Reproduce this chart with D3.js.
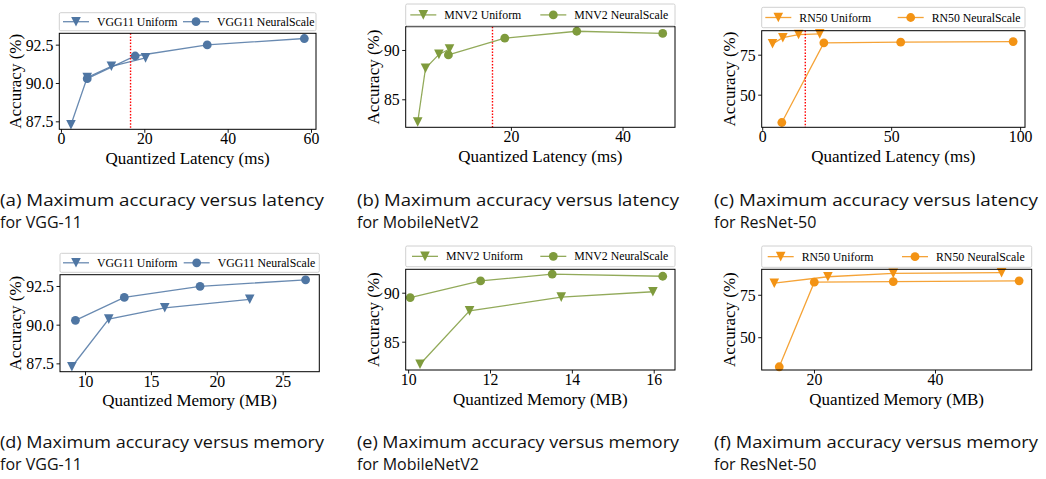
<!DOCTYPE html>
<html>
<head>
<meta charset="utf-8">
<script src="https://cdn.jsdelivr.net/npm/d3@7"></script>
<style>
  body { margin: 0; background: #fff; }
  svg { display: block; }
</style>
</head>
<body>
<svg id="fig" width="1046" height="479"></svg>
<script>
// ---- VGG-11 ----
const vggLatUniform = [2.4, 6.3, 12.1, 20.3];
const vggLatNeural  = [6.3, 17.8, 35.1, 58.4];
const vggMemUniform = [9.0, 11.8, 16.05, 22.5];
const vggMemNeural  = [9.27, 12.98, 18.73, 26.74];
const vggAccUniform = [87.28, 90.36, 91.09, 91.64];
const vggAccNeural  = [90.28, 91.76, 92.48, 92.9];

// ---- MobileNetV2 ----
const mnvLatUniform = [3.3, 4.7, 7.1, 9.0];
const mnvLatNeural  = [8.8, 18.9, 31.8, 47.2];
const mnvMemUniform = [10.29, 11.5, 13.74, 15.98];
const mnvMemNeural  = [10.05, 11.77, 13.52, 16.22];
const mnvAccUniform = [82.7, 88.15, 89.55, 90.1];
const mnvAccNeural  = [89.5, 91.2, 91.9, 91.68];

// ---- ResNet-50 ----
const rnLatUniform = [4.0, 8.0, 14.1, 22.3];
const rnLatNeural  = [7.6, 23.9, 53.7, 97.3];
const rnMemUniform = [13.44, 22.3, 33.1, 51.0];
const rnMemNeural  = [14.26, 20.05, 33.1, 53.9];
const rnAccUniform = [81.8, 85.6, 87.6, 88.0];
const rnAccNeural  = [32.6, 82.4, 82.8, 83.2];

// latency budget marker (ms)
const latencyBudget = 16.7;

// ---- tick values ----
const vggLatTicks = [0, 20, 40, 60];
const vggMemTicks = [10, 15, 20, 25];
const vggAccTicks = [87.5, 90.0, 92.5];
const mnvLatTicks = [20, 40];
const mnvMemTicks = [10, 12, 14, 16];
const mnvAccTicks = [85, 90];
const rnLatTicks  = [0, 50, 100];
const rnMemTicks  = [20, 40];
const rnAccTicks  = [50, 75];

// ---- captions ----
const captionsTop = [
  ["(a) Maximum accuracy versus latency", "for VGG-11"],
  ["(b) Maximum accuracy versus latency", "for MobileNetV2"],
  ["(c) Maximum accuracy versus latency", "for ResNet-50"]
];
const captionsBottom = [
  ["(d) Maximum accuracy versus memory", "for VGG-11"],
  ["(e) Maximum accuracy versus memory", "for MobileNetV2"],
  ["(f) Maximum accuracy versus memory", "for ResNet-50"]
];

const colors = { vgg: "#4f76a3", mnv: "#7f9b3d", rn: "#f39314" };

const panels = [
  { box: [59.3, 33.3, 316, 129.3], leg: [12.7, 30.7], legX: [16.7, 136.7],
    xDom: [-0.4, 61.2], yDom: [86.98, 93.24], xTicks: vggLatTicks, yTicks: vggAccTicks, yFmt: ".1f",
    xs: [vggLatUniform, vggLatNeural], ys: [vggAccUniform, vggAccNeural],
    names: ["VGG11 Uniform", "VGG11 NeuralScale"], color: colors.vgg,
    xLabel: "Quantized Latency (ms)", budget: latencyBudget },
  { box: [405.7, 26.7, 675, 127.3], leg: [4, 25.8], legX: [17.6, 147.6],
    xDom: [1.15, 49.4], yDom: [82.16, 92.36], xTicks: mnvLatTicks, yTicks: mnvAccTicks, yFmt: "d",
    xs: [mnvLatUniform, mnvLatNeural], ys: [mnvAccUniform, mnvAccNeural],
    names: ["MNV2 Uniform", "MNV2 NeuralScale"], color: colors.mnv,
    xLabel: "Quantized Latency (ms)", budget: latencyBudget },
  { box: [761.7, 30.7, 1025, 127.3], leg: [7.3, 27.7], legX: [16.6, 149],
    xDom: [-0.2, 101.9], yDom: [29.6, 90.0], xTicks: rnLatTicks, yTicks: rnAccTicks, yFmt: "d",
    xs: [rnLatUniform, rnLatNeural], ys: [rnAccUniform, rnAccNeural],
    names: ["RN50 Uniform", "RN50 NeuralScale"], color: colors.rn,
    xLabel: "Quantized Latency (ms)", budget: latencyBudget },
  { box: [60, 274.7, 319.3, 371.7], leg: [253.3, 272.3], legX: [16, 136.7],
    xDom: [8.1, 27.78], yDom: [86.96, 93.23], xTicks: vggMemTicks, yTicks: vggAccTicks, yFmt: ".1f",
    xs: [vggMemUniform, vggMemNeural], ys: [vggAccUniform, vggAccNeural],
    names: ["VGG11 Uniform", "VGG11 NeuralScale"], color: colors.vgg,
    xLabel: "Quantized Memory (MB)" },
  { box: [405.7, 269.3, 675, 370], leg: [246, 266.7], legX: [19.3, 147.6],
    xDom: [9.94, 16.52], yDom: [82.11, 92.39], xTicks: mnvMemTicks, yTicks: mnvAccTicks, yFmt: "d",
    xs: [mnvMemUniform, mnvMemNeural], ys: [mnvAccUniform, mnvAccNeural],
    names: ["MNV2 Uniform", "MNV2 NeuralScale"], color: colors.mnv,
    xLabel: "Quantized Memory (MB)" },
  { box: [761.7, 269.3, 1031.7, 370], leg: [246, 267.3], legX: [19, 153.3],
    xDom: [11.36, 55.98], yDom: [30.7, 90.0], xTicks: rnMemTicks, yTicks: rnAccTicks, yFmt: "d",
    xs: [rnMemUniform, rnMemNeural], ys: [rnAccUniform, rnAccNeural],
    names: ["RN50 Uniform", "RN50 NeuralScale"], color: colors.rn,
    xLabel: "Quantized Memory (MB)" }
];

const svg = d3.select("#fig");
const serif = "'Liberation Serif', 'Times New Roman', serif";

// marker shapes: downward triangle and circle
function drawMarker(g, kind, x, y, color) {
  if (kind === 0) {
    const s = 4.8;
    g.append("path")
      .attr("d", `M${x - s},${y - s}L${x + s},${y - s}L${x},${y + s}Z`)
      .attr("fill", color);
  } else {
    g.append("circle").attr("cx", x).attr("cy", y).attr("r", 4.4).attr("fill", color);
  }
}

panels.forEach(p => {
  const [L, T, R, B] = p.box;
  const x = d3.scaleLinear().domain(p.xDom).range([L, R]);
  const y = d3.scaleLinear().domain(p.yDom).range([B, T]);
  const g = svg.append("g");

  const clipId = "clip" + Math.round(L) + "_" + Math.round(T);
  svg.append("clipPath").attr("id", clipId)
    .append("rect").attr("x", L - 6).attr("y", T - 6).attr("width", R - L + 12).attr("height", B - T + 12);

  // series: line then markers
  const data = g.append("g").attr("clip-path", `url(#${clipId})`);
  [0, 1].forEach(k => {
    const pts = p.xs[k].map((v, i) => [v, p.ys[k][i]]);
    data.append("path")
      .datum(pts)
      .attr("d", d3.line().x(d => x(d[0])).y(d => y(d[1])))
      .attr("fill", "none")
      .attr("stroke", p.color)
      .attr("stroke-opacity", 0.85)
      .attr("stroke-width", 1.3);
    pts.forEach(d => drawMarker(data, k, x(d[0]), y(d[1]), p.color));
  });

  // latency budget
  if (p.budget !== undefined) {
    g.append("line")
      .attr("x1", x(p.budget)).attr("x2", x(p.budget))
      .attr("y1", T).attr("y2", B)
      .attr("stroke", "#ff0000")
      .attr("stroke-width", 1.4)
      .attr("stroke-dasharray", "1.5,1.6");
  }

  // axes
  const xAxis = d3.axisBottom(x).tickValues(p.xTicks).tickSize(3.5).tickPadding(2).tickFormat(d3.format("d"));
  const yAxis = d3.axisLeft(y).tickValues(p.yTicks).tickSize(3.5).tickPadding(2.5).tickFormat(d3.format(p.yFmt));
  const gx = g.append("g").attr("transform", `translate(0,${B})`).call(xAxis);
  const gy = g.append("g").attr("transform", `translate(${L},0)`).call(yAxis);
  [gx, gy].forEach(a => {
    a.select(".domain").remove();
    a.selectAll("line").attr("stroke", "#000").attr("stroke-width", 0.9);
    a.selectAll("text").attr("font-family", serif).attr("font-size", 15.8).attr("fill", "#000");
  });
  gx.selectAll("text").attr("dy", null).attr("y", 15.2);
  gy.selectAll("text").attr("dy", "0.34em");

  // frame
  g.append("rect")
    .attr("x", L).attr("y", T).attr("width", R - L).attr("height", B - T)
    .attr("fill", "none").attr("stroke", "#000").attr("stroke-width", 1);

  // axis titles
  g.append("text")
    .attr("x", (L + R) / 2).attr("y", B + 34.5)
    .attr("text-anchor", "middle")
    .attr("font-family", serif).attr("font-size", 17)
    .text(p.xLabel);
  let maxW = 0;
  gy.selectAll("text").each(function () { maxW = Math.max(maxW, this.getComputedTextLength()); });
  const yl = L - maxW - 6 - 10.5;
  g.append("text")
    .attr("transform", `translate(${yl},${(T + B) / 2}) rotate(-90)`)
    .attr("text-anchor", "middle")
    .attr("dy", "0.32em")
    .attr("font-family", serif).attr("font-size", 17)
    .text("Accuracy (%)");

  // legend above the axes
  const [lt, lb] = p.leg;
  g.append("rect")
    .attr("x", L).attr("y", lt).attr("width", R - L).attr("height", lb - lt)
    .attr("rx", 1.5)
    .attr("fill", "#fff").attr("fill-opacity", 0.8)
    .attr("stroke", "#d0d0d0").attr("stroke-width", 1);
  const lc = (lt + lb) / 2;
  [0, 1].forEach(k => {
    const mx = L + p.legX[k];
    g.append("line")
      .attr("x1", mx - 13).attr("x2", mx + 13)
      .attr("y1", lc).attr("y2", lc)
      .attr("stroke", p.color).attr("stroke-opacity", 0.85).attr("stroke-width", 1.3);
    drawMarker(g, k, mx, lc, p.color);
    g.append("text")
      .attr("x", mx + 21).attr("y", lc + 4)
      .attr("font-family", serif).attr("font-size", 11.8)
      .text(p.names[k]);
  });
});

// sub-figure captions
const capFont = "'Open Sans', 'Noto Sans', sans-serif";
const capX = [0, 357, 714];
const capW = [324, 322, 324];
[[captionsTop, 206], [captionsBottom, 448]].forEach(([caps, base]) => {
  caps.forEach((lines, i) => {
    svg.append("text")
      .attr("x", capX[i]).attr("y", base)
      .attr("font-family", capFont).attr("font-size", 16)
      .attr("textLength", capW[i]).attr("lengthAdjust", "spacingAndGlyphs")
      .attr("fill", "#111")
      .text(lines[0]);
    svg.append("text")
      .attr("x", capX[i]).attr("y", base + 21.5)
      .attr("font-family", capFont).attr("font-size", 16)
      .attr("fill", "#111")
      .text(lines[1]);
  });
});
</script>
</body>
</html>
